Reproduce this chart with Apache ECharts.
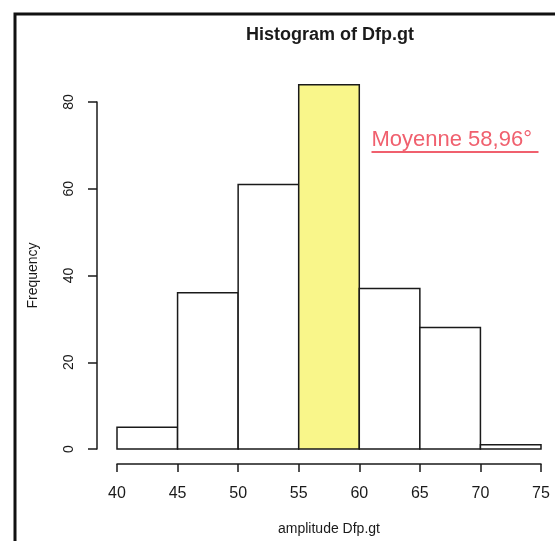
<!DOCTYPE html>
<html>
<head>
<meta charset="utf-8">
<script src="https://cdn.jsdelivr.net/npm/echarts@6/dist/echarts.min.js"></script>
<style>
  html, body { margin: 0; padding: 0; background: #fff; }
  #chart { width: 555px; height: 541px; }
</style>
</head>
<body>
<div id="chart"></div>
<script>
// bin edges and counts
const breaks = [40, 45, 50, 55, 60, 65, 70, 75];
const counts = [5, 36, 61, 84, 37, 28, 1];
const meanBin = 3; // 55-60, filled yellow
const meanLabel = 'Moyenne 58,96°';

const bins = counts.map((c, i) => [breaks[i], breaks[i + 1], c, i]);

var chart = echarts.init(document.getElementById('chart'));
const ink = '#1a1a1a';
const font = '"Liberation Sans", Arial, sans-serif';

chart.setOption({
  animation: false,
  title: {
    text: 'Histogram of Dfp.gt',
    left: 325,
    top: 21,
    textAlign: 'center',
    textStyle: { fontSize: 18, fontWeight: 'bold', color: ink, fontFamily: font }
  },
  grid: { left: 117, right: 14, top: 102, bottom: 83 },
  xAxis: {
    type: 'value',
    min: 40,
    max: 75,
    interval: 5,
    offset: 15,
    name: 'amplitude Dfp.gt',
    nameLocation: 'middle',
    nameGap: 58,
    nameTextStyle: { fontSize: 14, color: ink, fontFamily: font },
    axisLine: { show: true, onZero: false, lineStyle: { color: ink, width: 1.5 } },
    axisTick: { show: true, length: 8, lineStyle: { color: ink, width: 1.5 } },
    axisLabel: { margin: 22, fontSize: 16, color: ink, fontFamily: font, showMinLabel: true, showMaxLabel: true },
    splitLine: { show: false }
  },
  yAxis: {
    type: 'value',
    min: 0,
    max: 80,
    interval: 20,
    offset: 20,
    name: 'Frequency',
    nameLocation: 'middle',
    nameGap: 57,
    nameRotate: 90,
    nameTextStyle: { fontSize: 14, color: ink, fontFamily: font },
    axisLine: { show: true, onZero: false, lineStyle: { color: ink, width: 1.5 } },
    axisTick: { show: true, length: 9, lineStyle: { color: ink, width: 1.5 } },
    axisLabel: { rotate: 90, margin: 21, fontSize: 14, color: ink, fontFamily: font },
    splitLine: { show: false }
  },
  series: [{
    type: 'custom',
    clip: false,
    data: bins,
    encode: { x: [0, 1], y: 2 },
    renderItem: function (params, api) {
      const p0 = api.coord([api.value(0), 0]);
      const p1 = api.coord([api.value(1), api.value(2)]);
      return {
        type: 'rect',
        shape: { x: p0[0], y: p1[1], width: p1[0] - p0[0], height: p0[1] - p1[1] },
        style: {
          fill: api.value(3) === meanBin ? '#f9f68a' : '#ffffff',
          stroke: ink,
          lineWidth: 1.5
        }
      };
    }
  }],
  graphic: [
    // scanned page frame
    { type: 'polyline', shape: { points: [[15, 541], [15, 14], [555, 14]] }, style: { stroke: '#111', lineWidth: 3, fill: null } },
    {
      type: 'group',
      left: 369,
      top: 129,
      children: [
        { type: 'text', style: { text: meanLabel, fill: '#f0606e', font: '22px ' + font } },
        { type: 'line', shape: { x1: 0, y1: 23, x2: 167, y2: 23 }, style: { stroke: '#f0606e', lineWidth: 2 } }
      ]
    }
  ]
});
</script>
</body>
</html>
